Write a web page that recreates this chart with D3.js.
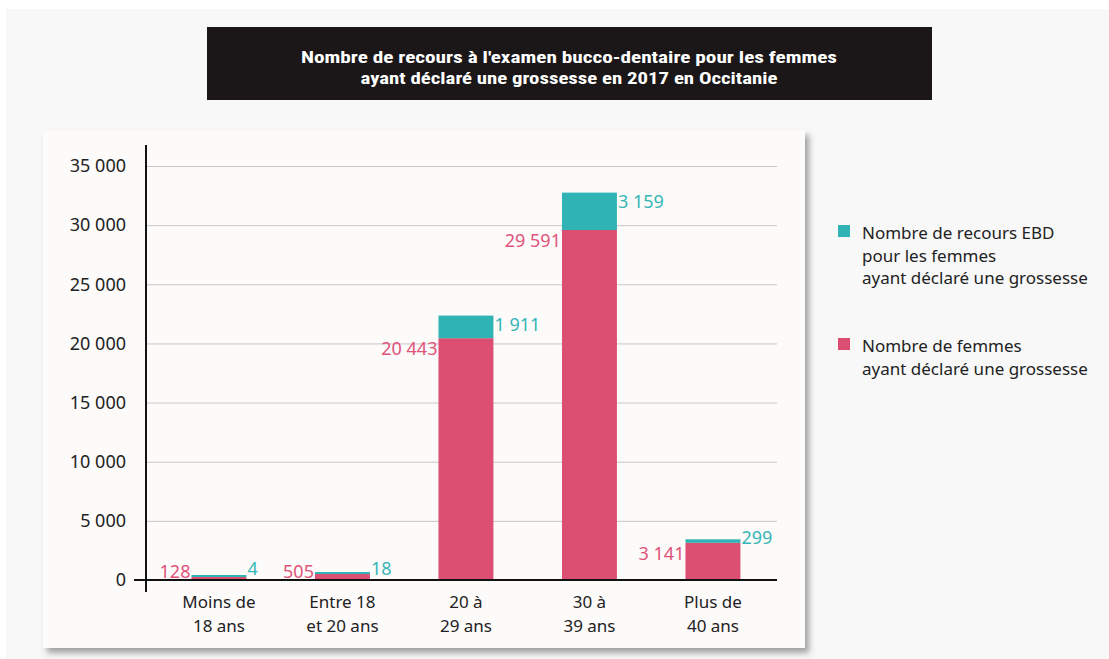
<!DOCTYPE html>
<html>
<head>
<meta charset="utf-8">
<script src="https://cdn.jsdelivr.net/npm/d3@7"></script>
<style>
  body { margin: 0; background: #fff; }
  #chart { width: 1109px; height: 659px; }
  text { font-family: "Noto Sans", "Open Sans", sans-serif; }
</style>
</head>
<body>
<div id="chart"></div>
<script>
// categories (two lines each)
const categories = ["Moins de 18 ans", "Entre 18 et 20 ans", "20 à 29 ans", "30 à 39 ans", "Plus de 40 ans"];
const catLines = [["Moins de", "18 ans"], ["Entre 18", "et 20 ans"], ["20 à", "29 ans"], ["30 à", "39 ans"], ["Plus de", "40 ans"]];
const femmes = [128, 505, 20443, 29591, 3141];
const recours = [4, 18, 1911, 3159, 299];
const yTicks = [0, 5000, 10000, 15000, 20000, 25000, 30000, 35000];
const titleLines = ["Nombre de recours à l'examen bucco-dentaire pour les femmes", "ayant déclaré une grossesse en 2017 en Occitanie"];
const legendRecours = ["Nombre de recours EBD", "pour les femmes", "ayant déclaré une grossesse"];
const legendFemmes = ["Nombre de femmes", "ayant déclaré une grossesse"];

const pink = "#dd4f72";
const teal = "#2fb3b5";
const pinkText = "#e0547a";
const tealText = "#36b6b6";

const fmt = function (v) {
  return d3.format(",")(v).replace(/,/g, " ");
};

let svg = d3.select("#chart").append("svg")
  .attr("width", 1109)
  .attr("height", 659);

let defs = svg.append("defs");
defs.append("filter")
  .attr("id", "shadow")
  .attr("x", "-5%").attr("y", "-5%")
  .attr("width", "115%").attr("height", "115%")
  .append("feDropShadow")
  .attr("dx", 4).attr("dy", 5)
  .attr("stdDeviation", 3)
  .attr("flood-color", "#555")
  .attr("flood-opacity", 0.55);

// page background
svg.append("rect")
  .attr("x", 6).attr("y", 9)
  .attr("width", 1103).attr("height", 650)
  .attr("fill", "#f8f8f8");

// title box
svg.append("rect")
  .attr("x", 207).attr("y", 27)
  .attr("width", 725).attr("height", 73)
  .attr("fill", "#1b1718");

let titleWidths = [536, 417];
svg.append("g").selectAll("text")
  .data(titleLines)
  .enter()
  .append("text")
  .attr("x", 569)
  .attr("y", function (d, i) { return 63 + i * 21; })
  .attr("text-anchor", "middle")
  .attr("textLength", function (d, i) { return titleWidths[i]; })
  .attr("lengthAdjust", "spacingAndGlyphs")
  .attr("fill", "#fff")
  .style("font-family", "'Roboto Condensed', 'Liberation Sans Narrow', 'Roboto', sans-serif")
  .style("font-weight", "bold")
  .style("font-size", "17px")
  .text(function (d) { return d; });

// chart card
svg.append("rect")
  .attr("x", 43).attr("y", 130)
  .attr("width", 762).attr("height", 518)
  .attr("fill", "#fdfafa")
  .attr("filter", "url(#shadow)");

let x = d3.scaleBand()
  .domain(categories)
  .range([157.2, 774.7])
  .paddingInner(0.555)
  .paddingOuter(0.2775);

let y = d3.scaleLinear()
  .domain([0, 35000])
  .range([580, 166]);

// grid lines
let yAxis = d3.axisLeft(y)
  .tickValues(yTicks)
  .tickSize(-631)
  .tickFormat(fmt);

let gy = svg.append("g")
  .attr("transform", "translate(146, 0)")
  .call(yAxis);

gy.select(".domain").remove();
gy.selectAll(".tick line")
  .attr("stroke", "#c8c6c6")
  .attr("stroke-width", 1);
gy.selectAll(".tick text")
  .attr("x", -20)
  .attr("fill", "#222")
  .style("font-size", "18px");

// bars (tiny values kept visible)
let pinkTop = function (i) { return Math.min(y(femmes[i]), y(0) - 3); };
let tealTop = function (i) {
  return Math.min(pinkTop(i) - (y(femmes[i]) - y(femmes[i] + recours[i])), pinkTop(i) - 2);
};

let bar = svg.selectAll("g.bar")
  .data(categories)
  .enter()
  .append("g")
  .attr("class", "bar");

bar.append("rect")
  .attr("x", function (d) { return x(d); })
  .attr("width", x.bandwidth())
  .attr("y", function (d, i) { return pinkTop(i); })
  .attr("height", function (d, i) { return y(0) - pinkTop(i); })
  .attr("fill", pink);

bar.append("rect")
  .attr("x", function (d) { return x(d); })
  .attr("width", x.bandwidth())
  .attr("y", function (d, i) { return tealTop(i); })
  .attr("height", function (d, i) { return pinkTop(i) - tealTop(i); })
  .attr("fill", teal);

// value labels
bar.append("text")
  .attr("x", function (d) { return x(d) - 1; })
  .attr("y", function (d, i) { return Math.min(y(femmes[i]) + 11, y(0) - 8); })
  .attr("dy", "0.35em")
  .attr("text-anchor", "end")
  .attr("fill", pinkText)
  .style("font-size", "18px")
  .text(function (d, i) { return fmt(femmes[i]); });

bar.append("text")
  .attr("x", function (d) { return x(d) + x.bandwidth() + 1; })
  .attr("y", function (d, i) {
    let top = tealTop(i);
    return recours[i] < 1000 ? Math.min(top - 2, y(0) - 11) : top + 9;
  })
  .attr("dy", "0.35em")
  .attr("fill", tealText)
  .style("font-size", "18px")
  .text(function (d, i) { return fmt(recours[i]); });

// axes lines
svg.append("line")
  .attr("x1", 146).attr("x2", 146)
  .attr("y1", 145).attr("y2", 592)
  .attr("stroke", "#111").attr("stroke-width", 2);

svg.append("line")
  .attr("x1", 134).attr("x2", 777)
  .attr("y1", y(0)).attr("y2", y(0))
  .attr("stroke", "#111").attr("stroke-width", 2);

// x labels
bar.append("text")
  .attr("text-anchor", "middle")
  .attr("fill", "#222")
  .style("font-size", "17px")
  .selectAll("tspan")
  .data(function (d, i) { return catLines[i].map(function (l) { return { cat: d, line: l }; }); })
  .enter()
  .append("tspan")
  .attr("x", function (d) { return x(d.cat) + x.bandwidth() / 2; })
  .attr("y", function (d, j) { return 608 + j * 24; })
  .text(function (d) { return d.line; });

// legend
let legend = svg.append("g");
let items = [
  { color: teal, lines: legendRecours, y: 225 },
  { color: pink, lines: legendFemmes, y: 338 }
];

let li = legend.selectAll("g")
  .data(items)
  .enter()
  .append("g");

li.append("rect")
  .attr("x", 838)
  .attr("y", function (d) { return d.y; })
  .attr("width", 12).attr("height", 12)
  .attr("fill", function (d) { return d.color; });

li.append("text")
  .attr("fill", "#222")
  .style("font-size", "17px")
  .selectAll("tspan")
  .data(function (d) { return d.lines.map(function (l, j) { return { t: l, y: d.y + 14 + j * 22.5 }; }); })
  .enter()
  .append("tspan")
  .attr("x", 862)
  .attr("y", function (d) { return d.y; })
  .text(function (d) { return d.t; });
</script>
</body>
</html>
